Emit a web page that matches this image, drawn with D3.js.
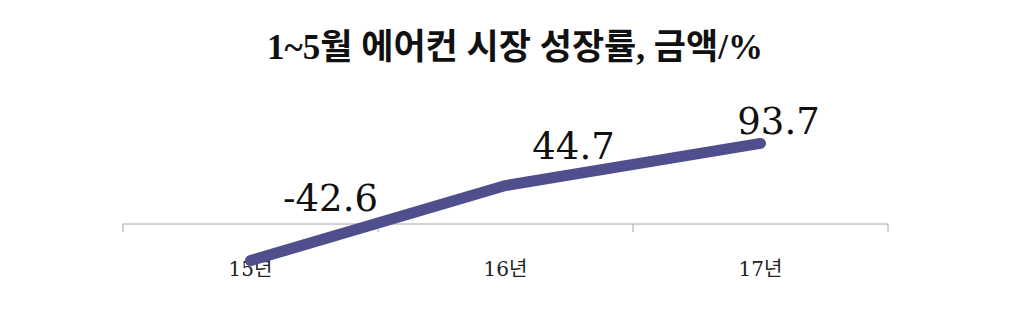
<!DOCTYPE html>
<html>
<head>
<meta charset="utf-8">
<script src="https://cdn.jsdelivr.net/npm/d3@7"></script>
<style>
  body { margin: 0; background: #fff; }
</style>
</head>
<body>
<script>
// data
const categories = ['15년', '16년', '17년'];
const values = [-42.6, 44.7, 93.7];
const title = '1~5월 에어컨 시장 성장률, 금액/%';

// layout constants
const width = 1024;
const height = 310;
const axisY = 224;
const pxPerUnit = 0.86;
// label nudges (dx, dy) relative to each point
const labelOffsets = [[80, -50], [68, -27], [18, -9]];

const svg = d3.select('body')
  .append('svg')
  .attr('width', width)
  .attr('height', height);

const scaleX = d3.scaleBand()
  .domain(categories)
  .range([123, 888]);

const scaleY = d3.scaleLinear()
  .domain([0, 100])
  .range([axisY, axisY - 100 * pxPerUnit]);

// title
svg.append('text')
  .attr('x', 515)
  .attr('y', 59)
  .attr('text-anchor', 'middle')
  .attr('font-family', '"Liberation Serif", "Noto Sans CJK KR", serif')
  .attr('font-weight', 'bold')
  .attr('font-size', 35)
  .attr('fill', '#111')
  .text(title);

// category axis at zero
const gAxis = svg.append('g')
  .attr('transform', `translate(0, ${scaleY(0)})`);
d3.axisBottom(scaleX).tickSize(0).tickFormat('')(gAxis);
gAxis.select('.domain').remove();
gAxis.append('line')
  .attr('x1', 123).attr('x2', 888)
  .attr('stroke', '#a6a6a6').attr('stroke-width', 1);
gAxis.selectAll('.sep')
  .data([123, ...categories.map((c) => scaleX(c) + scaleX.bandwidth())])
  .join('line')
  .attr('class', 'sep')
  .attr('x1', (d) => d).attr('x2', (d) => d)
  .attr('y1', 0).attr('y2', 8)
  .attr('stroke', '#a6a6a6');

// category labels
svg.selectAll('.cat')
  .data(categories)
  .join('text')
  .attr('class', 'cat')
  .attr('x', (d) => scaleX(d) + scaleX.bandwidth() / 2)
  .attr('y', 276)
  .attr('text-anchor', 'middle')
  .attr('font-family', '"DejaVu Serif", "Noto Sans CJK KR", serif')
  .attr('font-size', 20)
  .attr('fill', '#222')
  .text((d) => d);

// line
const line = d3.line()
  .x((d, i) => scaleX(categories[i]) + scaleX.bandwidth() / 2)
  .y((d) => scaleY(d));

svg.append('path')
  .datum(values)
  .attr('d', line)
  .attr('fill', 'none')
  .attr('stroke', '#4f4f8d')
  .attr('stroke-width', 11)
  .attr('stroke-linecap', 'round')
  .attr('stroke-linejoin', 'round');

// value labels
svg.selectAll('.val')
  .data(values)
  .join('text')
  .attr('class', 'val')
  .attr('x', (d, i) => scaleX(categories[i]) + scaleX.bandwidth() / 2 + labelOffsets[i][0])
  .attr('y', (d, i) => scaleY(d) + labelOffsets[i][1])
  .attr('text-anchor', 'middle')
  .attr('font-family', '"DejaVu Serif", serif')
  .attr('font-size', 37)
  .attr('fill', '#111')
  .text((d) => d.toFixed(1));
</script>
</body>
</html>
